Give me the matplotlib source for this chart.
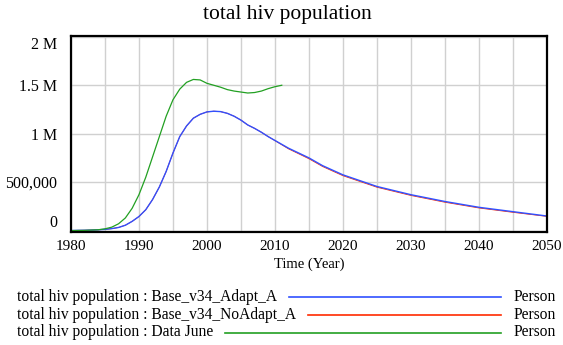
import numpy as np
import matplotlib
matplotlib.use("Agg")
import matplotlib.pyplot as plt

# model run years / values (millions of persons)
years_model = [1980, 1981, 1982, 1983, 1984, 1985, 1986, 1987, 1988, 1989,
               1990, 1991, 1992, 1993, 1994, 1995, 1996, 1997, 1998, 1999,
               2000, 2001, 2002, 2003, 2004, 2005, 2006, 2007, 2008, 2009,
               2010, 2012, 2015, 2017, 2020, 2025, 2030, 2035, 2040, 2045, 2050]
adapt = [0, 0.002, 0.003, 0.005, 0.008, 0.012, 0.02, 0.032, 0.055, 0.095,
         0.145, 0.215, 0.32, 0.45, 0.61, 0.8, 0.97, 1.08, 1.16, 1.2,
         1.225, 1.232, 1.228, 1.21, 1.18, 1.14, 1.09, 1.055, 1.015, 0.97,
         0.93, 0.85, 0.75, 0.67, 0.575, 0.455, 0.37, 0.30, 0.24, 0.195, 0.15]
noadapt = [0, 0.002, 0.003, 0.005, 0.008, 0.012, 0.02, 0.032, 0.055, 0.095,
           0.145, 0.215, 0.32, 0.45, 0.61, 0.8, 0.97, 1.08, 1.16, 1.2,
           1.225, 1.232, 1.228, 1.21, 1.18, 1.14, 1.09, 1.055, 1.015, 0.97,
           0.928, 0.843, 0.741, 0.661, 0.566, 0.447, 0.362, 0.292, 0.233, 0.188, 0.146]

years_data = [1980, 1982, 1984, 1985, 1986, 1987, 1988, 1989, 1990, 1991,
              1992, 1993, 1994, 1995, 1996, 1997, 1998, 1999, 2000, 2001,
              2002, 2003, 2004, 2005, 2006, 2007, 2008, 2009, 2010, 2011]
data_june = [0, 0.002, 0.008, 0.018, 0.035, 0.07, 0.13, 0.23, 0.37, 0.55,
             0.76, 0.97, 1.18, 1.35, 1.46, 1.53, 1.56, 1.555, 1.52, 1.5,
             1.48, 1.455, 1.44, 1.43, 1.42, 1.425, 1.44, 1.465, 1.485, 1.5]

ytick_vals = [0, 500000, 1000000, 1500000, 2000000]
ytick_labels = ["0", "500,000", "1 M", "1.5 M", "2 M"]

c_blue = "#3050ff"
c_red = "#ff2a00"
c_green = "#22a022"

plt.rcParams['font.family'] = ['Liberation Serif', 'DejaVu Serif']

fig = plt.figure(figsize=(5.63, 3.45), dpi=100)
ax = fig.add_axes([0.126, 0.3275, 0.8456, 0.568])

ax.plot(years_model, np.array(noadapt) * 1e6, color=c_red, lw=0.6)
ax.plot(years_model, np.array(adapt) * 1e6, color=c_blue, lw=1.0)
ax.plot(years_data, np.array(data_june) * 1e6, color=c_green, lw=0.9)

ax.set_xlim(1980, 2050)
ax.set_ylim(-15000, 2008000)
ax.set_xticks(range(1980, 2051, 10))
ax.set_xticks(range(1980, 2051, 5), minor=True)
ax.set_yticks(ytick_vals)
ax.set_yticklabels(ytick_labels)
ax.grid(True, which='both', axis='x', color='#d0d0d0', lw=1.0)
ax.grid(True, axis='y', color='#d0d0d0', lw=1.0)
ax.set_axisbelow(True)
ax.tick_params(which='both', length=0, labelsize=11, pad=6)
ax.tick_params(axis='y', labelsize=11.5, pad=10)
for s in ax.spines.values():
    s.set_linewidth(1.6)
    s.set_color('black')

ylabs = ax.get_yticklabels()
ylabs[0].set_va('bottom')
ylabs[-1].set_va('top')

ax.set_xlabel("Time (Year)", fontsize=10.5, labelpad=3)
W, H = 563, 345
fig.text(287 / W, 1 - 15 / H, "total hiv population", fontsize=15.5,
         ha='center', va='center')

# legend rows drawn like the Vensim footer
labels = ["total hiv population : Base_v34_Adapt_A",
          "total hiv population : Base_v34_NoAdapt_A",
          "total hiv population : Data June"]
colors = [c_blue, c_red, c_green]
rows_y = [297, 315, 332.5]
renderer = fig.canvas.get_renderer()
for lab, col, yy in zip(labels, colors, rows_y):
    fy = 1 - yy / H
    t = fig.text(17 / W, fy, lab, fontsize=11.2, va='center', ha='left')
    bb = t.get_window_extent(renderer=renderer)
    x0 = (bb.x1 + 12) / W
    fig.add_artist(plt.Line2D([x0, 501 / W], [fy, fy], color=col, lw=1.2,
                              transform=fig.transFigure))
    fig.text(514 / W, fy, "Person", fontsize=11.2, va='center', ha='left')

fig.savefig("out.png", dpi=100)
